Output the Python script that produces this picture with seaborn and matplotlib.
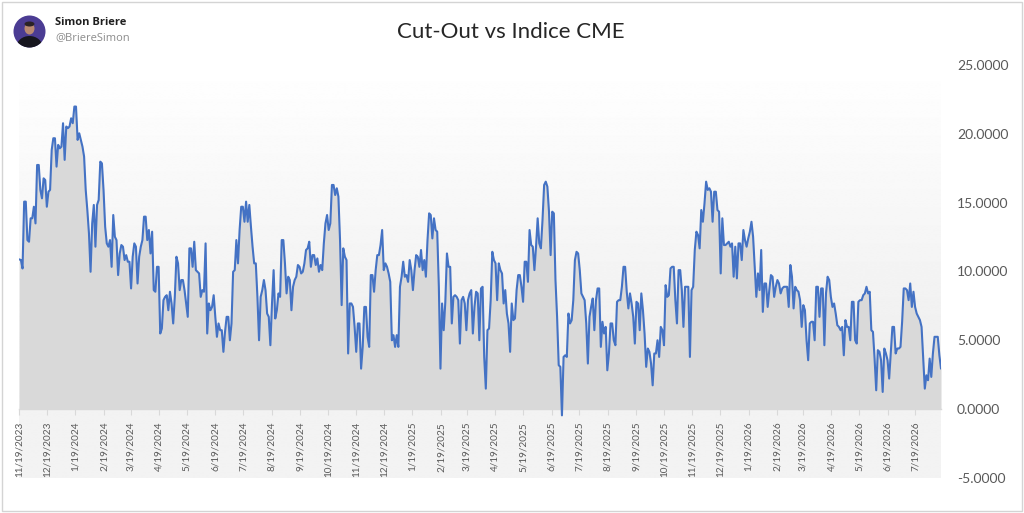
import numpy as np
import pandas as pd
import matplotlib
matplotlib.use("Agg")
import matplotlib.pyplot as plt
import seaborn as sns
from matplotlib.patches import Rectangle, Circle, Ellipse

# ---------------- data ----------------
seg_nov23_oct24 = [
    10.88, 10.83, 10.22, 15.07, 15.07, 12.28, 12.16, 13.86, 13.86, 14.70,
    13.49, 17.73, 17.73, 15.92, 15.31, 16.76, 16.64, 14.70, 15.79, 15.92,
    18.82, 19.67, 19.67, 17.61, 19.19, 18.94, 19.06, 20.76, 18.10, 20.52,
    20.40, 20.52, 21.12, 20.76, 21.97, 21.97, 19.55, 20.03, 19.55, 19.06,
    18.34, 15.92, 14.46, 12.77, 9.98, 13.49, 14.83, 11.80, 14.83, 15.19,
    17.97, 17.85, 15.92, 13.25, 12.04, 11.80, 12.28, 10.34, 14.10, 12.52,
    12.28, 9.74, 11.31, 11.92, 11.80, 10.83, 11.19, 10.71, 10.71, 8.77,
    11.07, 12.04, 11.80, 9.13, 11.07, 11.80, 12.28, 13.98, 13.98, 12.28,
    13.01, 11.31, 12.89, 8.65, 8.53, 10.34, 10.34, 5.50, 5.86, 7.92,
    8.16, 8.28, 7.19, 8.53, 7.68, 6.23, 8.16, 11.07, 10.59, 8.65,
    9.38, 9.38, 8.65, 7.68, 6.71, 11.68, 11.68, 10.34, 12.16, 10.10,
    9.98, 9.86, 8.16, 8.65, 8.53, 12.04, 5.50, 7.68, 7.19, 7.43,
    8.28, 6.71, 5.26, 6.23, 5.74, 5.74, 4.17, 5.62, 6.71, 6.71,
    5.01, 6.23, 9.98, 10.10, 12.28, 10.59, 13.01, 14.70, 14.70, 13.61,
    15.07, 13.61, 14.83, 13.25, 11.80, 10.59, 10.59, 8.16, 5.01, 8.16,
    8.65, 9.38, 8.65, 6.95, 6.71, 4.65, 7.68, 10.10, 6.59, 7.19,
    8.41, 8.16, 12.28, 12.28, 10.59, 8.41, 9.62, 9.38, 7.19, 8.89,
    9.38, 9.62, 10.47, 10.34, 9.86, 9.98, 10.59, 11.56, 11.68, 12.16,
    10.34, 11.19, 11.19, 10.47, 10.95, 9.98, 10.47, 10.10, 12.04, 13.49,
    14.10, 13.01, 13.49, 16.28, 16.28, 15.55,
]
seg_nov24_sep25 = [
    16.04, 15.43, 12.28, 7.56, 11.68, 11.07, 10.83, 4.05, 7.68, 7.68,
    7.43, 5.98, 4.17, 6.23, 6.23, 2.95, 4.53, 7.43, 7.43, 5.26,
    4.53, 9.74, 9.74, 8.53, 10.10, 11.19, 11.19, 11.92, 13.01, 10.10,
    10.59, 10.34, 9.86, 9.25, 5.01, 5.38, 4.53, 5.38, 4.53, 8.89,
    9.62, 10.71, 9.62, 9.74, 9.25, 10.83, 10.10, 8.65, 10.10, 11.19,
    11.07, 10.34, 11.56, 10.10, 10.83, 9.62, 12.28, 14.22, 14.10, 12.40,
    13.86, 13.01, 12.89, 8.89, 2.95, 7.68, 5.74, 7.80, 11.31, 10.34,
    10.34, 6.23, 8.16, 8.28, 8.16, 7.92, 4.77, 7.92, 8.16, 7.68,
    5.74, 7.92, 8.41, 8.65, 5.50, 7.43, 8.53, 8.41, 5.01, 8.77,
    8.89, 3.80, 1.50, 5.74, 5.86, 7.92, 11.43, 10.83, 10.59, 7.92,
    10.59, 10.10, 9.86, 7.68, 8.65, 6.95, 6.23, 4.17, 7.68, 6.47,
    6.59, 8.65, 9.74, 9.74, 8.89, 7.80, 10.71, 10.71, 9.25, 13.01,
    11.92, 11.80, 10.10, 11.80, 13.86, 12.04, 11.68, 13.74, 16.28, 16.52,
    16.16, 14.34, 11.19, 14.34, 14.22, 9.38, 6.71, 3.20, 3.08, -0.44,
    3.80, 3.92, 3.80, 6.95, 6.23, 6.47, 7.92, 10.83, 11.43, 11.31,
    10.10, 8.41, 8.16, 7.92, 6.23, 3.32, 6.71, 7.43, 8.04, 5.74,
    7.92, 8.77, 8.77, 4.53, 6.35, 5.50, 5.98, 2.83, 4.05, 6.23,
    6.23, 5.01, 4.65, 7.80, 7.92, 7.92, 8.89, 10.34, 10.34, 8.53,
    7.32, 8.41, 7.68, 6.71, 4.77, 7.80,
]
seg_sep25_aug26 = [
    7.68, 5.74, 8.41, 7.19, 5.50, 3.08, 4.41, 4.17, 3.32, 1.74,
    4.05, 4.05, 5.01, 3.80, 5.98, 5.74, 4.65, 9.01, 8.16, 8.28,
    10.22, 10.34, 10.34, 7.92, 6.23, 10.10, 10.10, 8.65, 5.98, 8.89,
    8.89, 8.89, 3.80, 8.65, 8.89, 11.56, 12.89, 12.65, 11.68, 14.46,
    13.61, 14.95, 16.52, 15.92, 16.04, 15.79, 13.61, 15.79, 15.79, 14.46,
    14.34, 9.86, 13.86, 11.92, 11.92, 12.04, 12.16, 11.80, 12.04, 9.62,
    11.80, 9.50, 12.04, 12.04, 10.83, 13.01, 12.28, 11.80, 12.40, 12.89,
    13.61, 12.52, 10.34, 8.16, 9.86, 8.65, 11.56, 7.07, 9.13, 9.13,
    7.43, 8.65, 9.74, 9.62, 8.16, 8.89, 9.38, 9.13, 8.41, 8.77,
    8.89, 8.89, 8.89, 7.43, 10.47, 9.62, 7.32, 8.89, 8.65, 8.53,
    7.92, 5.98, 7.56, 7.19, 5.01, 3.56, 6.23, 6.35, 6.35, 5.01,
    8.89, 8.89, 6.71, 8.77, 8.77, 4.65, 8.41, 9.62, 9.38, 8.16,
    7.43, 7.68, 6.95, 6.10, 5.98, 5.74, 5.98, 3.92, 6.47, 5.98,
    5.98, 5.01, 7.80, 7.80, 5.01, 4.77, 7.80, 7.92, 7.92, 8.28,
    8.41, 8.89, 8.41, 8.53, 5.74, 5.62, 3.68, 1.38, 4.29, 4.17,
    3.56, 1.26, 4.41, 4.05, 3.56, 2.23, 4.05, 5.98, 5.98, 4.05,
    4.41, 4.41, 4.53, 6.35, 8.77, 8.77, 8.65, 7.92, 9.13, 7.43,
    8.53, 7.43, 6.95, 6.71, 6.47, 5.98, 3.80, 1.50, 2.47, 2.11,
    3.68, 2.35, 4.05, 5.26, 5.26, 5.26, 3.92, 2.95,
]
start_date = "2023-11-19"
end_date = "2026-08-16"
first_tick = "2023-11-19"
last_tick = "2026-07-19"
y_ticks = [-5, 0, 5, 10, 15, 20, 25]
title_text = "Cut-Out vs Indice CME"
author_name = "Simon Briere"
author_handle = "@BriereSimon"

# ---------------- build table ----------------
values = seg_nov23_oct24 + seg_nov24_sep25 + seg_sep25_aug26
dates = pd.date_range(start_date, end_date, periods=len(values))
df = pd.DataFrame({"date": dates, "value": values})
tick_dates = pd.date_range(first_tick, last_tick, freq=pd.DateOffset(months=1))
tick_labels = [f"{d.month}/{d.day}/{d.year}" for d in tick_dates]

sns.set_theme(style="white")
plt.rcParams["font.family"] = ["Lato", "DejaVu Sans"]

W, H = 1024, 513
fig = plt.figure(figsize=(W / 100, H / 100), dpi=100)
fig.patch.set_facecolor("white")

pos = [19.3 / W, (H - 478.2) / H, (941.0 - 19.3) / W, (478.2 - 64.8) / H]

# background gradient of the plot area
bg = fig.add_axes(pos, zorder=0)
yy = np.linspace(25, -5, 600)
g = np.where(yy >= 0, 1.0 - 0.075 * (25 - yy) / 25.0, 0.95)
bg.imshow(np.tile(g[:, None], (1, 2)), cmap="gray", vmin=0, vmax=1,
          aspect="auto", extent=[0, 1, 0, 1], interpolation="bilinear")
bg.set_xlim(0, 1); bg.set_ylim(0, 1)
bg.axis("off")

ax = fig.add_axes(pos, zorder=1)
ax.patch.set_alpha(0)
ax.fill_between(df["date"], df["value"], 0, color="#d9d9d9", lw=0, zorder=1)
sns.lineplot(data=df, x="date", y="value", ax=ax, color="#4472c4",
             lw=1.5, zorder=3, legend=False)

ax.set_xlim(dates[0], dates[-1])
ax.set_ylim(-5, 25)
for s in ["top", "left", "right"]:
    ax.spines[s].set_visible(False)
ax.spines["bottom"].set_position(("data", 0))
ax.spines["bottom"].set_color("#d9d9d9")
ax.spines["bottom"].set_linewidth(1.0)
ax.spines["bottom"].set_zorder(2)

ax.set_xticks(tick_dates)
ax.set_xticklabels(tick_labels, rotation=90)
ax.tick_params(axis="x", bottom=True, direction="out", length=4, width=0.8,
               color="#d9d9d9", labelsize=7.2, labelcolor="#595959", pad=5)
ax.yaxis.tick_right()
ax.set_yticks(y_ticks)
ax.set_yticklabels([f"{v:.4f}" for v in y_ticks])
ax.tick_params(axis="y", right=False, left=False, length=0, pad=11.5,
               labelsize=10, labelcolor="#595959")
ax.set_xlabel("")
ax.set_ylabel("")
ax.grid(False)

# overlay for header / border (1 unit = 1 pixel)
ov = fig.add_axes([0, 0, 1, 1], zorder=5)
ov.set_xlim(0, W); ov.set_ylim(H, 0)
ov.axis("off")
ov.patch.set_alpha(0)
ov.add_patch(Rectangle((1.5, 1.5), W - 3.5, H - 3.5, fill=False,
                       edgecolor="#d4d4d4", lw=1.0))
av = Circle((29.5, 31.5), 16, facecolor="#4b3c93", edgecolor="none")
ov.add_patch(av)
body = Ellipse((29.5, 47), 26, 22, facecolor="#16161e", edgecolor="none")
head = Ellipse((29.5, 28.5), 10, 12, facecolor="#b98a72", edgecolor="none")
hair = Ellipse((29.5, 24), 10, 5, facecolor="#2a2225", edgecolor="none")
for p in (body, head, hair):
    ov.add_patch(p)
    p.set_clip_path(av)

fig.text(55 / W, 1 - 22.5 / H, author_name, ha="left", va="center",
         fontsize=8, fontweight="bold", color="#1f1f1f",
         family=["Open Sans", "DejaVu Sans"])
fig.text(55 / W, 1 - 38 / H, author_handle, ha="left", va="center",
         fontsize=8, color="#8c8c8c", family=["Open Sans", "DejaVu Sans"])
fig.text(511 / W, 1 - 32 / H, title_text, ha="center", va="center",
         fontsize=16, color="#262626")

fig.savefig("out.png", dpi=100, facecolor="white")
